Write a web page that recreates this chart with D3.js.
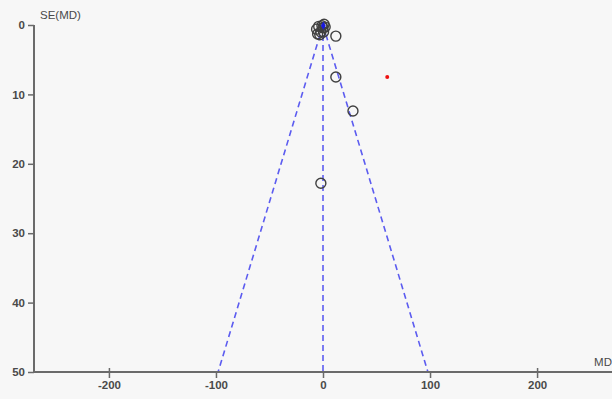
<!DOCTYPE html>
<html><head><meta charset="utf-8">
<script src="https://cdn.jsdelivr.net/npm/d3@7"></script>
<style>
html,body{margin:0;padding:0;background:#f7f7f7;}
svg{display:block;font-family:Arial,"Liberation Sans",sans-serif;}
</style></head>
<body><div id="chart"></div>
<script>
// study effects (MD) and standard errors
const studyMD = [-6, -4, -2, -1, 0, 1, 2, -3, 0.5, -5, 12, 12, 28, -2];
const studySE = [0.6, 0.2, 1.0, 0.1, 0.4, -0.1, 0.3, 1.4, 1.0, 1.3, 1.6, 7.5, 12.4, 22.8];
const pooledMD = [0.3];
const pooledSE = [0.1];
const outlierMD = [60];
const outlierSE = [7.5];
const xTicks = [-200, -100, 0, 100, 200];
const yTicks = [0, 10, 20, 30, 40, 50];
const funnelSE = [0, 50];

const W = 612, H = 399;
const svg = d3.select("#chart").append("svg").attr("width", W).attr("height", H);
svg.append("rect").attr("width", W).attr("height", H).attr("fill", "#f7f7f7");

const x = d3.scaleLinear().domain([-270, 270]).range([34, 612]);
const y = d3.scaleLinear().domain([0, 50]).range([25, 372]);

const axisColor = "#6a6a6a", textColor = "#4a4a4a";

// funnel lines
const center = 0;
const lineG = svg.append("g").attr("stroke", "#5c5cf0").attr("stroke-width", 1.6).attr("stroke-dasharray", "6,4").attr("fill", "none");
lineG.append("line").attr("x1", x(center)).attr("y1", y(funnelSE[0])).attr("x2", x(center)).attr("y2", y(funnelSE[1]));
lineG.append("line").attr("x1", x(center)).attr("y1", y(funnelSE[0])).attr("x2", x(center - 1.96 * funnelSE[1])).attr("y2", y(funnelSE[1]));
lineG.append("line").attr("x1", x(center)).attr("y1", y(funnelSE[0])).attr("x2", x(center + 1.96 * funnelSE[1])).attr("y2", y(funnelSE[1]));

// axes
const fmt = d => String(d);
const yAxis = svg.append("g").attr("transform", `translate(${x(-270)},0)`)
  .call(d3.axisLeft(y).tickValues(yTicks).tickSize(6).tickPadding(3).tickFormat(fmt));
const xAxis = svg.append("g").attr("transform", `translate(0,${y(50)})`)
  .call(d3.axisBottom(x).tickValues(xTicks).tickSize(6).tickPadding(3).tickFormat(fmt));
[xAxis, yAxis].forEach(a => {
  a.select(".domain").attr("stroke", axisColor).attr("stroke-width", 2);
  a.selectAll(".tick line").attr("stroke", axisColor).attr("stroke-width", 1.5);
  a.selectAll(".tick text").attr("fill", textColor).attr("font-size", 11.5).attr("font-weight", "bold");
});
yAxis.select(".domain").attr("d", `M0,${y(0)}V${y(50)}`);
xAxis.select(".domain").attr("d", `M${x(-270)},0H${x(270)}`);
xAxis.selectAll(".tick line").attr("y1", -4);
xAxis.selectAll(".tick").filter(d => d === 0 || d === -100 || d === 100).select("line").attr("y1", 0);

svg.append("text").attr("x", 40).attr("y", 19).attr("font-size", 11.5).attr("fill", textColor).text("SE(MD)");
svg.append("text").attr("x", 612).attr("y", 366).attr("font-size", 11.5).attr("fill", textColor).attr("text-anchor", "end").text("MD");

// study circles
svg.append("g").selectAll("circle").data(studyMD.map((m, i) => [m, studySE[i]])).join("circle")
  .attr("cx", d => x(d[0])).attr("cy", d => y(d[1])).attr("r", 5)
  .attr("fill", "none").attr("stroke", "#404040").attr("stroke-width", 1.4);

// pooled marker
svg.append("g").selectAll("path").data(pooledMD.map((m, i) => [m, pooledSE[i]])).join("path")
  .attr("transform", d => `translate(${x(d[0])},${y(d[1])})`)
  .attr("d", d3.symbol(d3.symbolDiamond, 20)).attr("fill", "#1a1adb");

// outlier red point
svg.append("g").selectAll("circle").data(outlierMD.map((m, i) => [m, outlierSE[i]])).join("circle")
  .attr("cx", d => x(d[0])).attr("cy", d => y(d[1])).attr("r", 2).attr("fill", "#ee1111");
</script></body></html>
